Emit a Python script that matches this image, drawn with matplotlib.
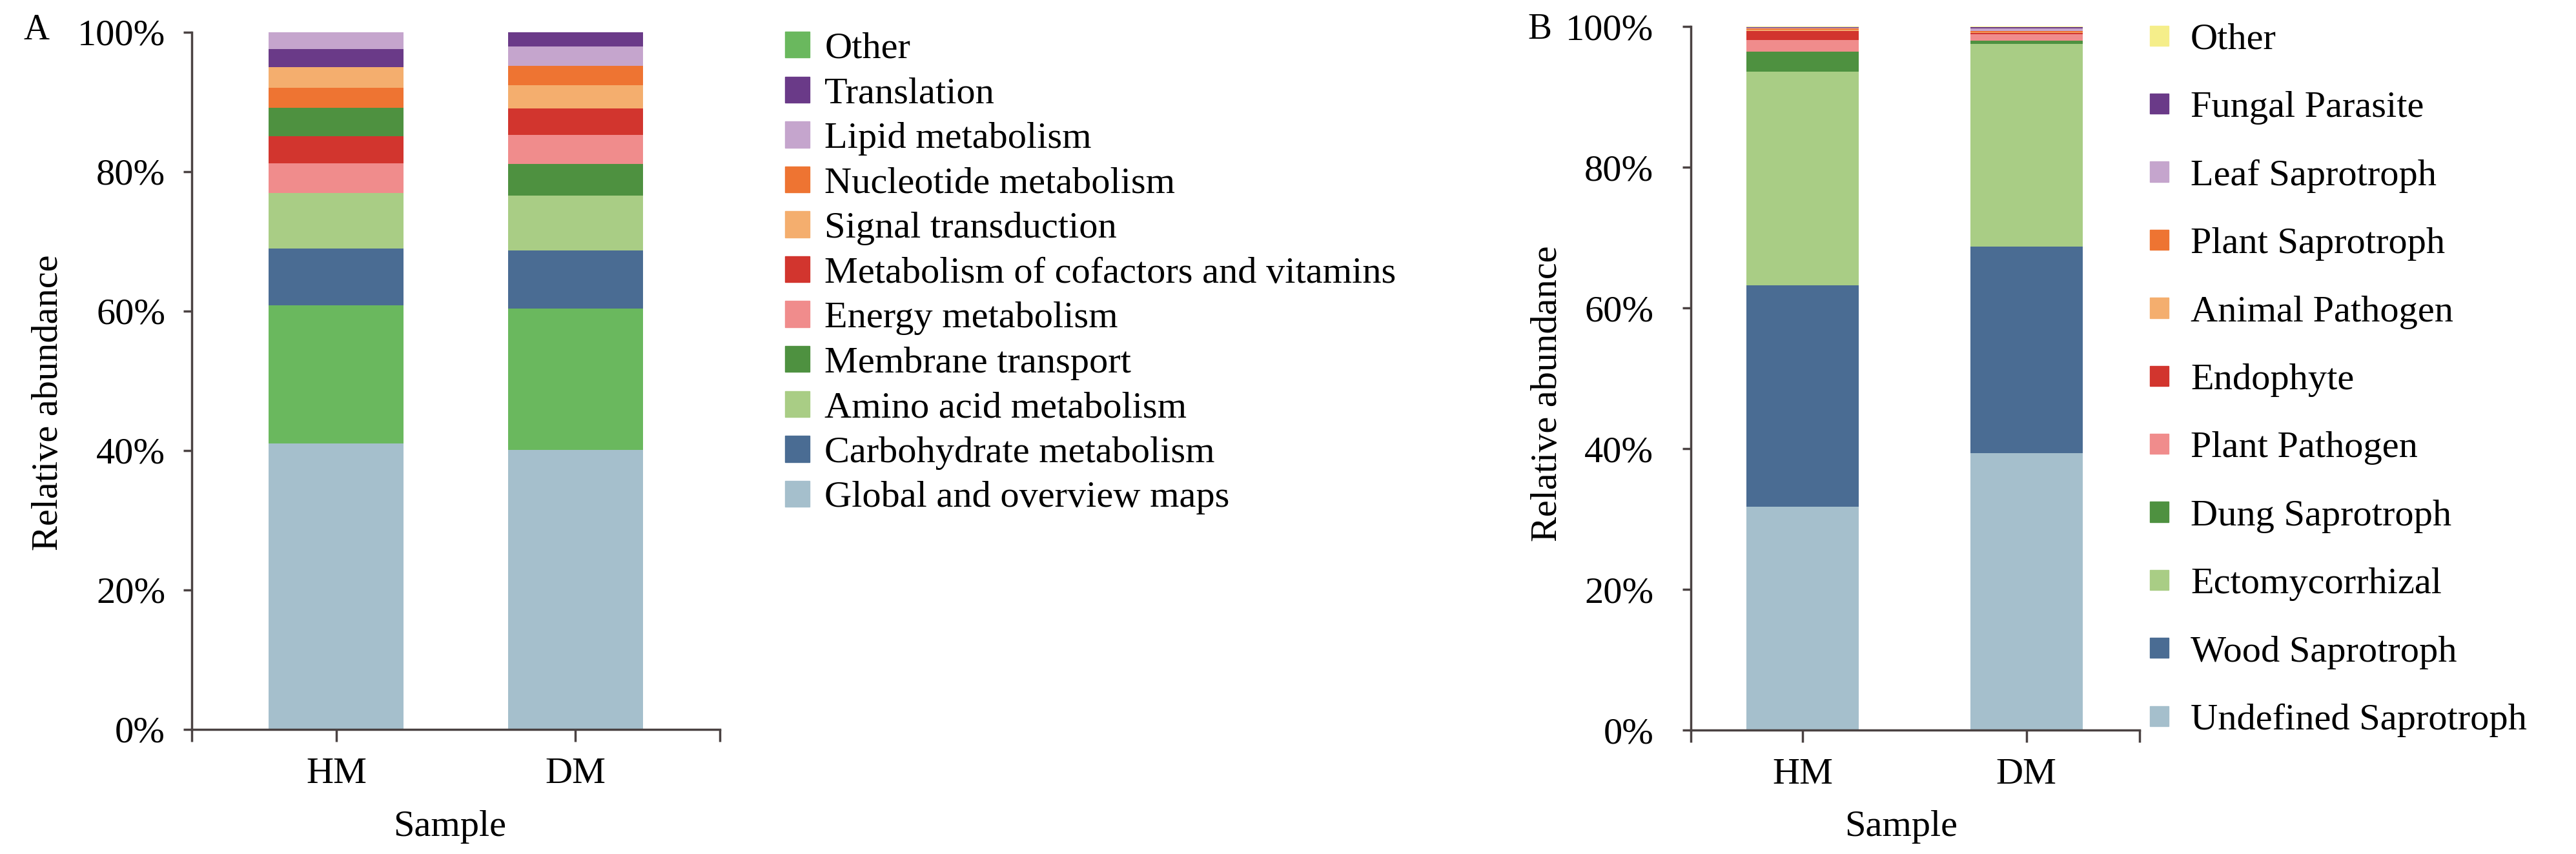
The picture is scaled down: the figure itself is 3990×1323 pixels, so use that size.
import matplotlib
matplotlib.use("Agg")
import matplotlib.pyplot as plt
from matplotlib.patches import Patch
from matplotlib.ticker import PercentFormatter

plt.rcParams['font.family'] = ['Liberation Serif', 'DejaVu Serif']

#   DATA
samples = ['HM', 'DM']

# Panel A: KEGG level-2 pathways, legend order (top to bottom), values in %
kegg_names = ['Other', 'Translation', 'Lipid metabolism', 'Nucleotide metabolism',
              'Signal transduction', 'Metabolism of cofactors and vitamins',
              'Energy metabolism', 'Membrane transport', 'Amino acid metabolism',
              'Carbohydrate metabolism', 'Global and overview maps']
kegg_hm = [19.8, 2.6, 2.4, 2.8, 3.0, 3.9, 4.3, 4.1, 7.9, 8.2, 41.0]
kegg_dm = [20.3, 2.0, 2.8, 2.8, 3.3, 3.8, 4.2, 4.5, 7.9, 8.3, 40.1]
# stacking order in each bar, bottom to top
kegg_order_hm = ['Global and overview maps', 'Other', 'Carbohydrate metabolism',
                 'Amino acid metabolism', 'Energy metabolism',
                 'Metabolism of cofactors and vitamins', 'Membrane transport',
                 'Nucleotide metabolism', 'Signal transduction', 'Translation',
                 'Lipid metabolism']
kegg_order_dm = ['Global and overview maps', 'Other', 'Carbohydrate metabolism',
                 'Amino acid metabolism', 'Membrane transport', 'Energy metabolism',
                 'Metabolism of cofactors and vitamins', 'Signal transduction',
                 'Nucleotide metabolism', 'Lipid metabolism', 'Translation']

# Panel B: fungal guilds, legend order (top to bottom), values in %
guild_names = ['Other', 'Fungal Parasite', 'Leaf Saprotroph', 'Plant Saprotroph',
               'Animal Pathogen', 'Endophyte', 'Plant Pathogen', 'Dung Saprotroph',
               'Ectomycorrhizal', 'Wood Saprotroph', 'Undefined Saprotroph']
guild_hm = [0.05, 0.1, 0.1, 0.2, 0.15, 1.3, 1.7, 2.8, 30.4, 31.5, 31.7]
guild_dm = [0.1, 0.2, 0.3, 0.2, 0.1, 0.2, 0.9, 0.5, 28.8, 29.3, 39.4]

#   STYLE
kegg_colors = ['#6ab85e', '#6a3a88', '#c5a5cd', '#ee7432', '#f4ae6e', '#d2352e',
               '#f08c8c', '#4e9140', '#a9cd85', '#4a6c93', '#a5bfcc']
guild_colors = ['#f5ee8a', '#6a3a88', '#c5a5cd', '#ee7432', '#f4ae6e', '#d2352e',
                '#f08c8c', '#4e9140', '#a9cd85', '#4a6c93', '#a5bfcc']
axis_color = '#4a4242'
FS = 42
W, H = 3991, 1323

fig = plt.figure(figsize=(W / 100, H / 100), dpi=100)


def style_axes(ax, xlim, ypad):
    ax.set_xlim(*xlim)
    ax.set_ylim(0, 100)
    for side in ['top', 'right']:
        ax.spines[side].set_visible(False)
    for side in ['left', 'bottom']:
        ax.spines[side].set_color(axis_color)
        ax.spines[side].set_linewidth(2.5)
    ax.set_yticks([0, 20, 40, 60, 80, 100])
    ax.yaxis.set_major_formatter(PercentFormatter(100, decimals=0))
    ax.set_xticks([xlim[0], 0, 1, xlim[1]])
    ax.set_xticklabels(['', samples[0], samples[1], ''])
    ax.tick_params(axis='y', direction='out', length=9.5, width=2.5,
                   color=axis_color, labelsize=FS, pad=ypad)
    ax.tick_params(axis='x', direction='out', length=14, width=2.5,
                   color=axis_color, labelsize=FS, pad=17)


def stacked(ax, names, colors, values, orders, width):
    for i, (vals, order) in enumerate(zip(values, orders)):
        bottom = 0
        for name in order:
            k = names.index(name)
            ax.bar(i, vals[k], width=width, bottom=bottom, color=colors[k],
                   linewidth=0)
            bottom += vals[k]


# Panel A
axA = fig.add_axes([297 / W, (H - 1130) / H, 818 / W, 1080 / H])
stacked(axA, kegg_names, kegg_colors, [kegg_hm, kegg_dm],
        [kegg_order_hm, kegg_order_dm], 0.565)
style_axes(axA, (-0.605, 1.605), 20)

# Panel B
axB = fig.add_axes([2619 / W, (H - 1131) / H, 695 / W, 1090 / H])
guild_order = guild_names[::-1]
stacked(axB, guild_names, guild_colors, [guild_hm, guild_dm],
        [guild_order, guild_order], 0.503)
style_axes(axB, (-0.5, 1.506), 32)

# Legends
handlesA = [Patch(color=c, label=n) for n, c in zip(kegg_names, kegg_colors)]
fig.legend(handles=handlesA, loc='upper left', bbox_to_anchor=(1216 / W, 1 - 49 / H),
           frameon=False, fontsize=FS, borderpad=0, borderaxespad=0,
           handlelength=0.65, handleheight=0.69, handletextpad=0.4,
           labelspacing=0.29)
handlesB = [Patch(color=c, label=n) for n, c in zip(guild_names, guild_colors)]
fig.legend(handles=handlesB, loc='upper left', bbox_to_anchor=(3330 / W, 1 - 36 / H),
           frameon=False, fontsize=FS, borderpad=0, borderaxespad=0,
           handlelength=0.5, handleheight=0.45, handletextpad=0.58,
           labelspacing=0.915)

# Axis labels and panel letters
fig.text(75 / W, 1 - 624 / H, 'Relative abundance', rotation=90,
         ha='center', va='center', fontsize=42)
fig.text(2397 / W, 1 - 610 / H, 'Relative abundance', rotation=90,
         ha='center', va='center', fontsize=42)
fig.text(697 / W, 1 - 1295 / H, 'Sample', ha='center', va='baseline', fontsize=42)
fig.text(2945 / W, 1 - 1295 / H, 'Sample', ha='center', va='baseline', fontsize=42)
fig.text(57 / W, 1 - 47 / H, 'A', ha='center', va='center', fontsize=40)
fig.text(2385 / W, 1 - 46 / H, 'B', ha='center', va='center', fontsize=40)

fig.savefig('out.png', dpi=100)
